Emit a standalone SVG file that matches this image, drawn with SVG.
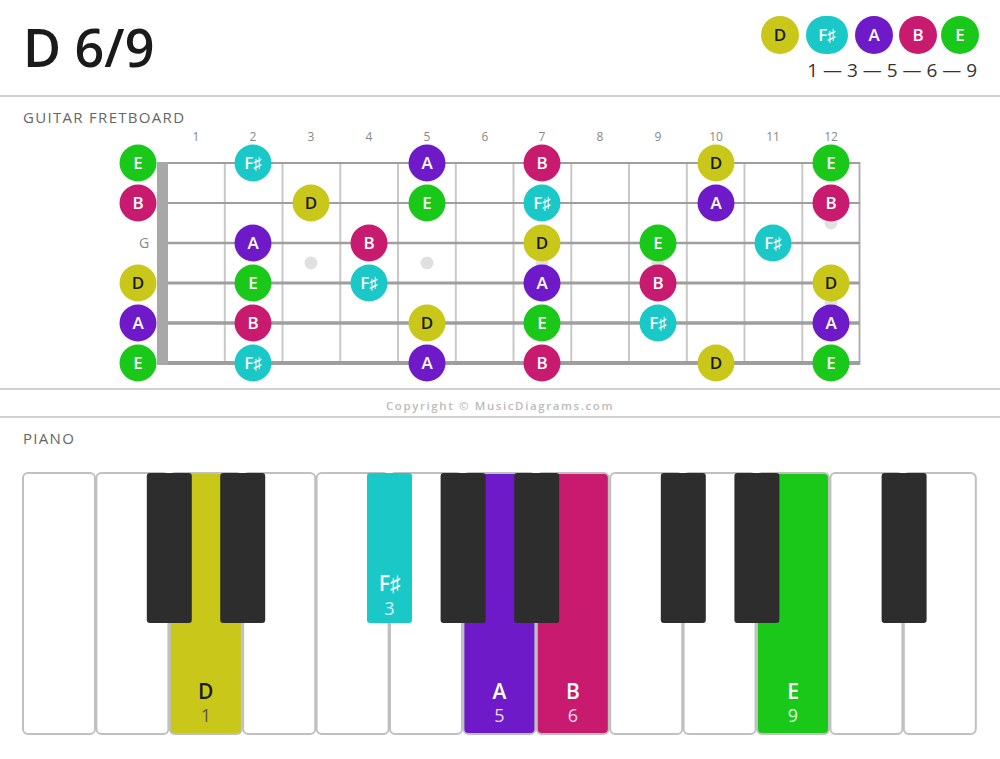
<svg xmlns="http://www.w3.org/2000/svg" width="1000" height="759" viewBox="0 0 1000 759">
<style>
text{font-family:"Open Sans","Liberation Sans",sans-serif}
.title{font-size:52px;font-weight:600;fill:#1a1a1a}
.ivl{font-size:19px;fill:#333}
.sec{font-size:15px;letter-spacing:1.3px;fill:#666;font-weight:500}
.copy{font-size:11.5px;letter-spacing:1.6px;fill:#bbb;font-weight:600}
.rule{stroke:#d0d0d0;stroke-width:2}
.fnum{font-size:12px;fill:#888;text-anchor:middle}
.fret{stroke:#c8c8c8;stroke-width:2}
.str{stroke:#9e9e9e}
.dot{fill:#e0e0e0}
.nt{font-size:17px;font-weight:600;text-anchor:middle;fill:#fff}
.nt.dk{fill:#1a1a1a}
.wk{fill:#fff;stroke:#c0c0c0;stroke-width:2}
.bk{fill:#2d2d2d}
.kl{font-size:21px;font-weight:600;text-anchor:middle;fill:#fff}
.kn{font-size:18px;text-anchor:middle;fill:#fff;fill-opacity:.85}
.dkt{fill:#1a1a1a}
.dkn{fill:#555;fill-opacity:1}
.cD{fill:#c9c81a}.cF{fill:#1ac8c8}.cA{fill:#6e1ac8}.cB{fill:#c81a6e}.cE{fill:#1ac81a}
</style>
<rect width="1000" height="759" fill="#fff"/>
<g id="header">
<text class="title" x="23" y="67">D 6/9</text>
<g id="legend">
<circle class="cD" cx="780" cy="35" r="19"/><text class="nt dk" x="780" y="41">D</text>
<rect class="cF" x="806" y="16" width="42" height="38" rx="19"/><text class="nt" x="827" y="41">F♯</text>
<circle class="cA" cx="874" cy="35" r="19"/><text class="nt" x="874" y="41">A</text>
<circle class="cB" cx="918" cy="35" r="19"/><text class="nt" x="918" y="41">B</text>
<circle class="cE" cx="960" cy="35" r="19"/><text class="nt" x="960" y="41">E</text>
</g>
<text class="ivl" x="977" y="77" text-anchor="end">1 — 3 — 5 — 6 — 9</text>
<line class="rule" x1="0" y1="96" x2="1000" y2="96"/>
</g>
<g id="fretboard">
<text class="sec" x="23" y="123">GUITAR FRETBOARD</text>
<g id="fret-numbers">
<text class="fnum" x="196" y="141">1</text><text class="fnum" x="253" y="141">2</text><text class="fnum" x="311" y="141">3</text><text class="fnum" x="369" y="141">4</text><text class="fnum" x="427" y="141">5</text><text class="fnum" x="485" y="141">6</text><text class="fnum" x="542" y="141">7</text><text class="fnum" x="600" y="141">8</text><text class="fnum" x="658" y="141">9</text><text class="fnum" x="716" y="141">10</text><text class="fnum" x="773" y="141">11</text><text class="fnum" x="831" y="141">12</text>
</g>
<g id="frets">
<line class="fret" x1="224.8" y1="163" x2="224.8" y2="363"/><line class="fret" x1="282.5" y1="163" x2="282.5" y2="363"/><line class="fret" x1="340.3" y1="163" x2="340.3" y2="363"/><line class="fret" x1="398" y1="163" x2="398" y2="363"/><line class="fret" x1="455.8" y1="163" x2="455.8" y2="363"/><line class="fret" x1="513.5" y1="163" x2="513.5" y2="363"/><line class="fret" x1="571.3" y1="163" x2="571.3" y2="363"/><line class="fret" x1="629" y1="163" x2="629" y2="363"/><line class="fret" x1="686.8" y1="163" x2="686.8" y2="363"/><line class="fret" x1="744.5" y1="163" x2="744.5" y2="363"/><line class="fret" x1="802.3" y1="163" x2="802.3" y2="363"/><line x1="859.5" y1="162" x2="859.5" y2="364" stroke="#b0b0b0" stroke-width="2"/>
</g>
<g id="inlays">
<circle class="dot" cx="311" cy="263" r="6.5"/><circle class="dot" cx="427" cy="263" r="6.5"/><circle class="dot" cx="542" cy="263" r="6.5"/><circle class="dot" cx="658" cy="263" r="6.5"/><circle class="dot" cx="831" cy="223" r="6.5"/><circle class="dot" cx="831" cy="303" r="6.5"/>
</g>
<g id="strings">
<line class="str" x1="157" y1="163" x2="860" y2="163" stroke-width="2"/>
<line class="str" x1="157" y1="203" x2="860" y2="203" stroke-width="2.2"/>
<line class="str" x1="157" y1="243" x2="860" y2="243" stroke-width="2.5"/>
<line class="str" x1="157" y1="283" x2="860" y2="283" stroke-width="2.9"/>
<line class="str" x1="157" y1="323" x2="860" y2="323" stroke-width="3.4"/>
<line class="str" x1="157" y1="363" x2="860" y2="363" stroke-width="4"/>
</g>
<rect id="nut" x="157" y="162" width="11" height="203" fill="#a8a8a8"/>
<text x="144" y="248" font-size="14" fill="#888" text-anchor="middle">G</text>
<g id="notes">
<g id="s1">
<circle class="cE" cx="138" cy="163" r="18.5"/><text class="nt" x="138" y="169">E</text>
<circle class="cF" cx="253" cy="163" r="18.5"/><text class="nt" x="253" y="169">F♯</text>
<circle class="cA" cx="427" cy="163" r="18.5"/><text class="nt" x="427" y="169">A</text>
<circle class="cB" cx="542" cy="163" r="18.5"/><text class="nt" x="542" y="169">B</text>
<circle class="cD" cx="716" cy="163" r="18.5"/><text class="nt dk" x="716" y="169">D</text>
<circle class="cE" cx="831" cy="163" r="18.5"/><text class="nt" x="831" y="169">E</text>
</g>
<g id="s2">
<circle class="cB" cx="138" cy="203" r="18.5"/><text class="nt" x="138" y="209">B</text>
<circle class="cD" cx="311" cy="203" r="18.5"/><text class="nt dk" x="311" y="209">D</text>
<circle class="cE" cx="427" cy="203" r="18.5"/><text class="nt" x="427" y="209">E</text>
<circle class="cF" cx="542" cy="203" r="18.5"/><text class="nt" x="542" y="209">F♯</text>
<circle class="cA" cx="716" cy="203" r="18.5"/><text class="nt" x="716" y="209">A</text>
<circle class="cB" cx="831" cy="203" r="18.5"/><text class="nt" x="831" y="209">B</text>
</g>
<g id="s3">
<circle class="cA" cx="253" cy="243" r="18.5"/><text class="nt" x="253" y="249">A</text>
<circle class="cB" cx="369" cy="243" r="18.5"/><text class="nt" x="369" y="249">B</text>
<circle class="cD" cx="542" cy="243" r="18.5"/><text class="nt dk" x="542" y="249">D</text>
<circle class="cE" cx="658" cy="243" r="18.5"/><text class="nt" x="658" y="249">E</text>
<circle class="cF" cx="773" cy="243" r="18.5"/><text class="nt" x="773" y="249">F♯</text>
</g>
<g id="s4">
<circle class="cD" cx="138" cy="283" r="18.5"/><text class="nt dk" x="138" y="289">D</text>
<circle class="cE" cx="253" cy="283" r="18.5"/><text class="nt" x="253" y="289">E</text>
<circle class="cF" cx="369" cy="283" r="18.5"/><text class="nt" x="369" y="289">F♯</text>
<circle class="cA" cx="542" cy="283" r="18.5"/><text class="nt" x="542" y="289">A</text>
<circle class="cB" cx="658" cy="283" r="18.5"/><text class="nt" x="658" y="289">B</text>
<circle class="cD" cx="831" cy="283" r="18.5"/><text class="nt dk" x="831" y="289">D</text>
</g>
<g id="s5">
<circle class="cA" cx="138" cy="323" r="18.5"/><text class="nt" x="138" y="329">A</text>
<circle class="cB" cx="253" cy="323" r="18.5"/><text class="nt" x="253" y="329">B</text>
<circle class="cD" cx="427" cy="323" r="18.5"/><text class="nt dk" x="427" y="329">D</text>
<circle class="cE" cx="542" cy="323" r="18.5"/><text class="nt" x="542" y="329">E</text>
<circle class="cF" cx="658" cy="323" r="18.5"/><text class="nt" x="658" y="329">F♯</text>
<circle class="cA" cx="831" cy="323" r="18.5"/><text class="nt" x="831" y="329">A</text>
</g>
<g id="s6">
<circle class="cE" cx="138" cy="363" r="18.5"/><text class="nt" x="138" y="369">E</text>
<circle class="cF" cx="253" cy="363" r="18.5"/><text class="nt" x="253" y="369">F♯</text>
<circle class="cA" cx="427" cy="363" r="18.5"/><text class="nt" x="427" y="369">A</text>
<circle class="cB" cx="542" cy="363" r="18.5"/><text class="nt" x="542" y="369">B</text>
<circle class="cD" cx="716" cy="363" r="18.5"/><text class="nt dk" x="716" y="369">D</text>
<circle class="cE" cx="831" cy="363" r="18.5"/><text class="nt" x="831" y="369">E</text>
</g>
</g>
</g>
<g id="footer">
<line class="rule" x1="0" y1="389" x2="1000" y2="389"/>
<text class="copy" x="500" y="410" text-anchor="middle">Copyright © MusicDiagrams.com</text>
<line class="rule" x1="0" y1="417" x2="1000" y2="417"/>
</g>
<g id="piano">
<text class="sec" x="23" y="444">PIANO</text>
<g id="white-keys">
<rect class="wk" x="23" y="473" width="72" height="261" rx="5"/>
<rect class="wk" x="96.4" y="473" width="72" height="261" rx="5"/>
<rect class="wk cD" x="169.8" y="473" width="72" height="261" rx="5"/>
<rect class="wk" x="243.2" y="473" width="72" height="261" rx="5"/>
<rect class="wk" x="316.6" y="473" width="72" height="261" rx="5"/>
<rect class="wk" x="390" y="473" width="72" height="261" rx="5"/>
<rect class="wk cA" x="463.4" y="473" width="72" height="261" rx="5"/>
<rect class="wk cB" x="536.8" y="473" width="72" height="261" rx="5"/>
<rect class="wk" x="610.2" y="473" width="72" height="261" rx="5"/>
<rect class="wk" x="683.6" y="473" width="72" height="261" rx="5"/>
<rect class="wk cE" x="757" y="473" width="72" height="261" rx="5"/>
<rect class="wk" x="830.4" y="473" width="72" height="261" rx="5"/>
<rect class="wk" x="903.8" y="473" width="72" height="261" rx="5"/>
</g>
<g id="black-keys">
<rect class="bk" x="146.8" y="473" width="45" height="150" rx="3"/>
<rect class="bk" x="220.2" y="473" width="45" height="150" rx="3"/>
<rect class="cF" x="367" y="473" width="45" height="150" rx="3"/>
<rect class="bk" x="440.6" y="473" width="45" height="150" rx="3"/>
<rect class="bk" x="514.2" y="473" width="45" height="150" rx="3"/>
<rect class="bk" x="660.8" y="473" width="45" height="150" rx="3"/>
<rect class="bk" x="734.4" y="473" width="45" height="150" rx="3"/>
<rect class="bk" x="881.6" y="473" width="45" height="150" rx="3"/>
</g>
<g id="key-labels">
<text class="kl dkt" x="205.8" y="699">D</text><text class="kn dkn" x="205.8" y="722">1</text>
<text class="kl" x="389.5" y="591" font-size="19">F♯</text><text class="kn" x="389.5" y="615" font-size="17">3</text>
<text class="kl" x="499.4" y="699">A</text><text class="kn" x="499.4" y="722">5</text>
<text class="kl" x="572.8" y="699">B</text><text class="kn" x="572.8" y="722">6</text>
<text class="kl" x="793" y="699">E</text><text class="kn" x="793" y="722">9</text>
</g>
</g>
</svg>
